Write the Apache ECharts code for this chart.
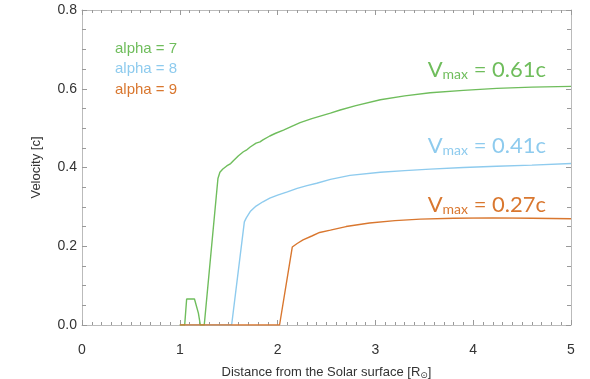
<!DOCTYPE html>
<html>
<head>
<meta charset="utf-8">
<script src="https://cdn.jsdelivr.net/npm/echarts@6/dist/echarts.min.js"></script>
<style>
html,body{margin:0;padding:0;background:#fff;}
#chart{width:590px;height:379px;}
</style>
</head>
<body>
<div id="chart"></div>
<script>
// 曲线数据
var distGreen = [1.00,1.05,1.07,1.15,1.19,1.21,1.25,1.39,1.41,1.44,1.46,1.48,1.52,1.55,1.57,1.60,1.65,1.68,1.72,1.78,1.82,1.85,1.92,1.98,2.06,2.15,2.23,2.35,2.54,2.64,2.80,3.05,3.30,3.56,3.90,4.24,4.60,5.00];
var velGreen  = [0,0,0.066,0.066,0.030,0,0,0.372,0.388,0.396,0.400,0.404,0.410,0.418,0.421,0.430,0.440,0.444,0.452,0.462,0.465,0.470,0.480,0.487,0.495,0.505,0.514,0.524,0.538,0.546,0.557,0.572,0.582,0.590,0.596,0.601,0.604,0.606];

var distBlue = [1.00,1.53,1.66,1.68,1.72,1.78,1.85,1.92,2.00,2.10,2.20,2.30,2.40,2.54,2.74,3.05,3.30,3.56,3.90,4.24,4.60,5.00];
var velBlue  = [0,0,0.262,0.272,0.288,0.302,0.313,0.322,0.330,0.338,0.347,0.354,0.360,0.370,0.380,0.388,0.392,0.396,0.400,0.403,0.406,0.410];

var distOrange = [1.00,2.02,2.15,2.20,2.26,2.35,2.43,2.54,2.70,2.94,3.20,3.46,3.80,4.20,4.60,5.00];
var velOrange  = [0,0,0.198,0.207,0.216,0.226,0.235,0.241,0.250,0.259,0.265,0.269,0.271,0.272,0.271,0.270];

var seriesNames = ['alpha = 7','alpha = 8','alpha = 9'];
var vmaxText = ['0.61c','0.41c','0.27c'];
var colors = ['#6fbd5c','#8ecbee','#d9772f'];

function pairs(xs, ys){
    var out = [];
    for(var i=0;i<xs.length;i++){ out.push([xs[i], ys[i]]); }
    return out;
}

var myChart = echarts.init(document.getElementById('chart'));

var tickStyle = {color:'#999', width:1};
var lineStyleAxis = {color:'#bbb', width:1};

function vmaxLabel(txt, color, y){
    return {
        type:'text', right:44, top:y, z:10,
        style:{
            text:'{v|V}{s|max}{v| = ' + txt + '}',
            fill:color,
            fontFamily:'Lato',
            rich:{
                v:{fontSize:22, fontFamily:'Lato', fill:color, verticalAlign:'bottom', lineHeight:24},
                s:{fontSize:14, fontFamily:'Lato', fill:color, verticalAlign:'bottom', lineHeight:20}
            }
        }
    };
}

var option = {
    animation:false,
    backgroundColor:'#fff',
    textStyle:{fontFamily:'Liberation Sans'},
    grid:{left:82, right:19, top:10, bottom:54, outerBoundsMode:'none'},
    legend:{
        orient:'vertical', left:105, top:36,
        itemWidth:0, itemHeight:15, itemGap:5.5,
        icon:'none',
        data:[
            {name:seriesNames[0], textStyle:{color:colors[0]}},
            {name:seriesNames[1], textStyle:{color:colors[1]}},
            {name:seriesNames[2], textStyle:{color:colors[2]}}
        ],
        textStyle:{fontSize:15, fontFamily:'Liberation Sans'},
        selectedMode:false
    },
    xAxis:[{
        type:'value', min:0, max:5, interval:1,
        name:'Distance from the Solar surface [R{sub|⊙}]',
        nameLocation:'middle', nameGap:40,
        nameTextStyle:{fontSize:13, color:'#333', fontFamily:'Liberation Sans',
            rich:{sub:{fontSize:9, color:'#333', fontFamily:'DejaVu Sans', verticalAlign:'bottom', padding:[6,0,0,0]}}},
        axisLine:{show:true, onZero:false, lineStyle:lineStyleAxis},
        axisTick:{show:true, inside:true, length:5, lineStyle:tickStyle},
        minorTick:{show:true, splitNumber:10, length:3, lineStyle:tickStyle},
        axisLabel:{fontSize:14, color:'#333', margin:18},
        splitLine:{show:false}
    },{
        type:'value', min:0, max:5, interval:1, position:'top',
        axisLine:{show:true, onZero:false, lineStyle:lineStyleAxis},
        axisTick:{show:true, inside:true, length:5, lineStyle:tickStyle},
        minorTick:{show:true, splitNumber:10, length:3, lineStyle:tickStyle},
        axisLabel:{show:false}, splitLine:{show:false}
    }],
    yAxis:[{
        type:'value', min:0, max:0.8, interval:0.2,
        name:'Velocity [c]', nameLocation:'middle', nameGap:39,
        nameTextStyle:{fontSize:13, color:'#333'},
        axisLine:{show:true, onZero:false, lineStyle:lineStyleAxis},
        axisTick:{show:true, inside:true, length:5, lineStyle:tickStyle},
        minorTick:{show:true, splitNumber:4, length:4, lineStyle:tickStyle},
        axisLabel:{fontSize:14, color:'#333', margin:5,
            formatter:function(v){ return v.toFixed(1); }},
        splitLine:{show:false}
    },{
        type:'value', min:0, max:0.8, interval:0.2, position:'right',
        axisLine:{show:true, onZero:false, lineStyle:lineStyleAxis},
        axisTick:{show:true, inside:true, length:5, lineStyle:tickStyle},
        minorTick:{show:true, splitNumber:4, length:4, lineStyle:tickStyle},
        axisLabel:{show:false}, splitLine:{show:false}
    }],
    series:[
        {name:seriesNames[0], type:'line', data:pairs(distGreen, velGreen), showSymbol:false,
            lineStyle:{color:colors[0], width:1.4}, itemStyle:{color:colors[0]}, z:3},
        {name:seriesNames[1], type:'line', data:pairs(distBlue, velBlue), showSymbol:false,
            lineStyle:{color:colors[1], width:1.4}, itemStyle:{color:colors[1]}, z:2},
        {name:seriesNames[2], type:'line', data:pairs(distOrange, velOrange), showSymbol:false,
            lineStyle:{color:colors[2], width:1.4}, itemStyle:{color:colors[2]}, z:4}
    ],
    graphic:[
        vmaxLabel(vmaxText[0], colors[0], 59),
        vmaxLabel(vmaxText[1], colors[1], 135),
        vmaxLabel(vmaxText[2], colors[2], 194)
    ]
};

myChart.setOption(option);
</script>
</body>
</html>
